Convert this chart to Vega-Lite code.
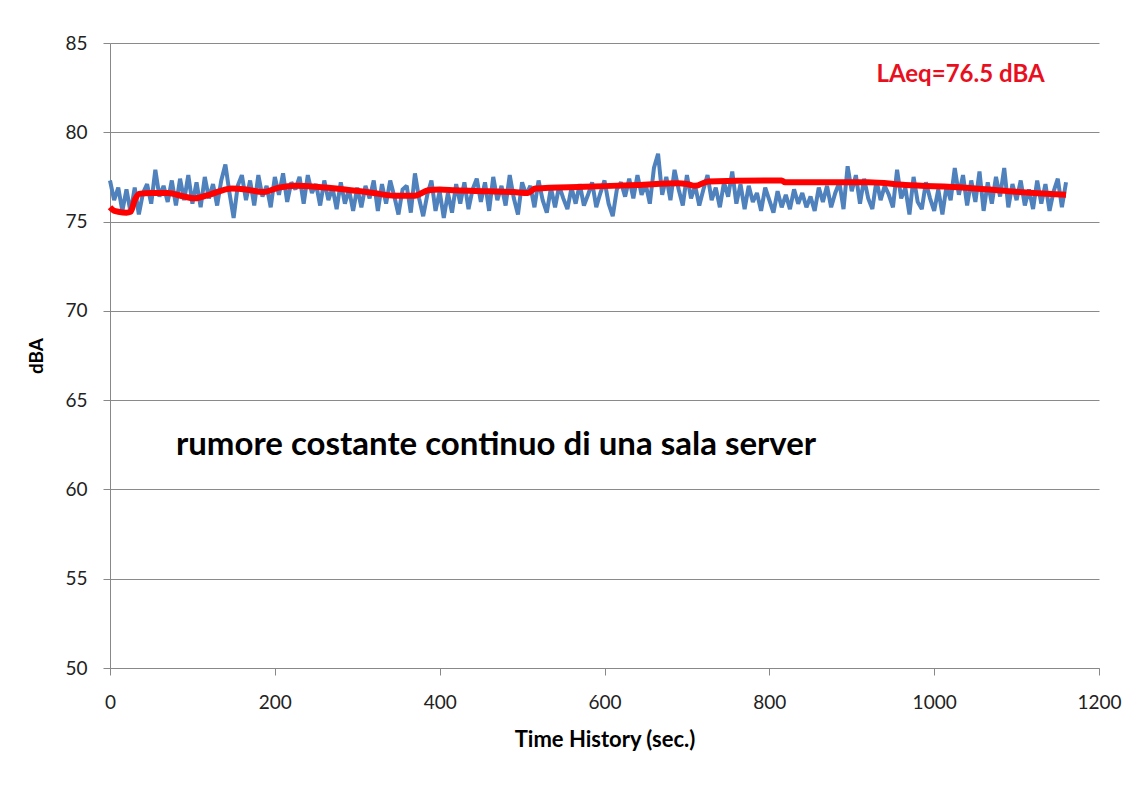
{
  "$schema": "https://vega.github.io/schema/vega-lite/v6.json",
  "width": 989,
  "height": 625,
  "autosize": "none",
  "padding": {"left": 110, "top": 43, "right": 40, "bottom": 117},
  "background": "white",
  "config": {
    "view": {"stroke": null},
    "font": "Lato",
    "axis": {"labelFont": "Lato", "titleFont": "Lato"}
  },
  "datasets": {
    "blue": [
      {"t":0,"v":77.3},{"t":5,"v":76.2},{"t":10,"v":76.9},{"t":15,"v":75.6},{"t":20,"v":76.8},{"t":25,"v":75.5},{"t":30,"v":76.9},{"t":35,"v":75.4},{"t":40,"v":76.6},{"t":45,"v":77.1},
      {"t":50,"v":76.0},{"t":55,"v":77.9},{"t":60,"v":76.4},{"t":65,"v":77.0},{"t":70,"v":76.1},{"t":75,"v":77.3},{"t":80,"v":75.9},{"t":85,"v":77.4},{"t":90,"v":76.2},{"t":95,"v":77.6},
      {"t":100,"v":76.0},{"t":105,"v":77.2},{"t":110,"v":75.8},{"t":115,"v":77.5},{"t":120,"v":76.3},{"t":125,"v":77.1},{"t":130,"v":75.9},{"t":135,"v":77.3},{"t":140,"v":78.2},{"t":145,"v":76.6},
      {"t":150,"v":75.2},{"t":155,"v":77.0},{"t":160,"v":77.6},{"t":165,"v":76.2},{"t":170,"v":77.3},{"t":175,"v":75.9},{"t":180,"v":77.6},{"t":185,"v":76.4},{"t":190,"v":77.0},{"t":195,"v":75.8},
      {"t":200,"v":77.5},{"t":205,"v":76.5},{"t":210,"v":77.7},{"t":215,"v":76.1},{"t":220,"v":77.2},{"t":225,"v":76.8},{"t":230,"v":77.5},{"t":235,"v":76.0},{"t":240,"v":77.6},{"t":245,"v":76.6},
      {"t":250,"v":77.1},{"t":255,"v":75.9},{"t":260,"v":77.3},{"t":265,"v":76.2},{"t":270,"v":76.9},{"t":275,"v":75.7},{"t":280,"v":77.2},{"t":285,"v":76.0},{"t":290,"v":76.8},{"t":295,"v":75.6},
      {"t":300,"v":76.9},{"t":305,"v":75.8},{"t":310,"v":77.0},{"t":315,"v":76.3},{"t":320,"v":77.3},{"t":325,"v":75.6},{"t":330,"v":77.1},{"t":335,"v":76.0},{"t":340,"v":77.3},{"t":345,"v":76.4},
      {"t":350,"v":75.4},{"t":355,"v":76.8},{"t":360,"v":77.0},{"t":365,"v":75.5},{"t":370,"v":77.7},{"t":375,"v":76.3},{"t":380,"v":75.3},{"t":385,"v":76.5},{"t":390,"v":77.3},{"t":395,"v":75.6},
      {"t":400,"v":76.7},{"t":405,"v":75.2},{"t":410,"v":76.6},{"t":415,"v":75.5},{"t":420,"v":77.1},{"t":425,"v":76.0},{"t":430,"v":77.2},{"t":435,"v":75.7},{"t":440,"v":76.8},{"t":445,"v":77.4},
      {"t":450,"v":76.1},{"t":455,"v":77.2},{"t":460,"v":75.6},{"t":465,"v":77.5},{"t":470,"v":76.2},{"t":475,"v":77.0},{"t":480,"v":75.9},{"t":485,"v":77.6},{"t":490,"v":76.3},{"t":495,"v":75.4},
      {"t":500,"v":77.2},{"t":505,"v":76.5},{"t":510,"v":77.0},{"t":515,"v":75.8},{"t":520,"v":77.3},{"t":525,"v":76.2},{"t":530,"v":75.5},{"t":535,"v":76.9},{"t":540,"v":75.8},{"t":545,"v":77.0},
      {"t":550,"v":76.3},{"t":555,"v":75.7},{"t":560,"v":76.9},{"t":565,"v":76.0},{"t":570,"v":77.1},{"t":575,"v":75.9},{"t":580,"v":76.5},{"t":585,"v":77.2},{"t":590,"v":75.8},{"t":595,"v":76.6},
      {"t":600,"v":77.3},{"t":605,"v":76.0},{"t":610,"v":75.3},{"t":615,"v":76.8},{"t":620,"v":77.2},{"t":625,"v":76.4},{"t":630,"v":77.4},{"t":635,"v":76.3},{"t":640,"v":77.6},{"t":645,"v":76.5},
      {"t":650,"v":77.1},{"t":655,"v":76.0},{"t":660,"v":78.0},{"t":665,"v":78.8},{"t":670,"v":76.5},{"t":675,"v":77.5},{"t":680,"v":76.2},{"t":685,"v":77.9},{"t":690,"v":76.8},{"t":695,"v":75.9},
      {"t":700,"v":77.6},{"t":705,"v":76.3},{"t":710,"v":77.0},{"t":715,"v":75.9},{"t":720,"v":76.8},{"t":725,"v":77.6},{"t":730,"v":76.2},{"t":735,"v":76.9},{"t":740,"v":75.8},{"t":745,"v":77.2},
      {"t":750,"v":76.4},{"t":755,"v":77.8},{"t":760,"v":76.0},{"t":765,"v":77.1},{"t":770,"v":75.7},{"t":775,"v":77.0},{"t":780,"v":76.1},{"t":785,"v":76.6},{"t":790,"v":75.6},{"t":795,"v":76.9},
      {"t":800,"v":76.2},{"t":805,"v":75.5},{"t":810,"v":76.7},{"t":815,"v":75.8},{"t":820,"v":76.5},{"t":825,"v":75.7},{"t":830,"v":76.8},{"t":835,"v":76.0},{"t":840,"v":76.6},{"t":845,"v":75.8},
      {"t":850,"v":76.4},{"t":855,"v":75.6},{"t":860,"v":76.9},{"t":865,"v":76.1},{"t":870,"v":77.0},{"t":875,"v":75.8},{"t":880,"v":76.6},{"t":885,"v":77.2},{"t":890,"v":75.7},{"t":895,"v":78.1},
      {"t":900,"v":76.7},{"t":905,"v":77.6},{"t":910,"v":76.0},{"t":915,"v":77.4},{"t":920,"v":76.3},{"t":925,"v":75.7},{"t":930,"v":77.3},{"t":935,"v":76.2},{"t":940,"v":77.0},{"t":945,"v":76.5},
      {"t":950,"v":75.8},{"t":955,"v":77.9},{"t":960,"v":76.3},{"t":965,"v":76.9},{"t":970,"v":75.4},{"t":975,"v":77.5},{"t":980,"v":76.1},{"t":985,"v":75.7},{"t":990,"v":77.2},{"t":995,"v":76.3},
      {"t":1000,"v":75.6},{"t":1005,"v":76.8},{"t":1010,"v":75.4},{"t":1015,"v":77.0},{"t":1020,"v":76.2},{"t":1025,"v":78.0},{"t":1030,"v":76.5},{"t":1035,"v":77.6},{"t":1040,"v":75.9},{"t":1045,"v":77.3},
      {"t":1050,"v":76.1},{"t":1055,"v":77.8},{"t":1060,"v":75.6},{"t":1065,"v":77.2},{"t":1070,"v":76.0},{"t":1075,"v":77.5},{"t":1080,"v":76.4},{"t":1085,"v":78.0},{"t":1090,"v":75.8},{"t":1095,"v":77.1},
      {"t":1100,"v":76.2},{"t":1105,"v":77.3},{"t":1110,"v":75.9},{"t":1115,"v":76.8},{"t":1120,"v":75.7},{"t":1125,"v":77.3},{"t":1130,"v":76.0},{"t":1135,"v":77.1},{"t":1140,"v":75.6},{"t":1145,"v":76.7},
      {"t":1150,"v":77.4},{"t":1155,"v":75.8},{"t":1160,"v":77.2}
    ],
    "red": [
      {"t":0,"v":75.8},{"t":5,"v":75.6},{"t":10,"v":75.55},{"t":20,"v":75.5},{"t":25,"v":75.55},{"t":30,"v":76.2},{"t":35,"v":76.55},{"t":50,"v":76.6},{"t":70,"v":76.6},{"t":90,"v":76.4},
      {"t":103,"v":76.3},{"t":120,"v":76.5},{"t":148,"v":76.85},{"t":165,"v":76.8},{"t":185,"v":76.65},{"t":205,"v":76.9},{"t":225,"v":77.0},{"t":250,"v":76.95},{"t":285,"v":76.8},{"t":320,"v":76.6},
      {"t":346,"v":76.45},{"t":370,"v":76.45},{"t":386,"v":76.75},{"t":400,"v":76.8},{"t":419,"v":76.75},{"t":459,"v":76.7},{"t":490,"v":76.65},{"t":507,"v":76.6},{"t":516,"v":76.85},{"t":576,"v":76.95},
      {"t":640,"v":77.05},{"t":689,"v":77.15},{"t":700,"v":77.1},{"t":710,"v":77.0},{"t":726,"v":77.25},{"t":815,"v":77.3},{"t":819,"v":77.2},{"t":920,"v":77.2},{"t":965,"v":77.05},{"t":1038,"v":76.9},
      {"t":1090,"v":76.7},{"t":1160,"v":76.5}
    ],
    "notes": [
      {"t":80,"v":62.5,"label":"rumore costante continuo di una sala server","kind":"main"},
      {"t":930,"v":83.2,"label":"LAeq=76.5 dBA","kind":"laeq"}
    ]
  },
  "encoding": {
    "x": {
      "field": "t", "type": "quantitative",
      "scale": {"domain": [0, 1200], "nice": false},
      "axis": {
        "values": [0, 200, 400, 600, 800, 1000, 1200],
        "format": "d",
        "labelFlush": false,
        "labelBound": false,
        "title": "Time History (sec.)",
        "titleFontSize": 22, "titleFontWeight": "bold", "titleColor": "#000000", "titlePadding": 17,
        "labelFontSize": 19, "labelColor": "#222222", "labelPadding": 18,
        "tickSize": 7, "tickColor": "#888888", "domainColor": "#888888",
        "grid": false
      }
    },
    "y": {
      "field": "v", "type": "quantitative",
      "scale": {"domain": [50, 85], "nice": false, "zero": false},
      "axis": {
        "values": [50, 55, 60, 65, 70, 75, 80, 85],
        "title": "dBA",
        "titleFontSize": 19, "titleFontWeight": "bold", "titleColor": "#000000", "titlePadding": 18,
        "labelFontSize": 19, "labelColor": "#222222", "labelPadding": 16,
        "labelFlush": false, "labelBound": false,
        "tickSize": 7, "tickColor": "#888888", "domainColor": "#888888",
        "grid": true, "gridColor": "#8a8a8a", "gridWidth": 1.2
      }
    }
  },
  "layer": [
    {
      "data": {"name": "blue"},
      "mark": {"type": "line", "color": "#4F81BD", "strokeWidth": 4, "strokeJoin": "miter", "strokeMiterLimit": 2}
    },
    {
      "data": {"name": "red"},
      "mark": {"type": "line", "color": "#FF0000", "strokeWidth": 6, "interpolate": "monotone"}
    },
    {
      "data": {"name": "notes"},
      "transform": [{"filter": "datum.kind === 'main'"}],
      "mark": {"type": "text", "align": "left", "baseline": "middle", "fontSize": 33, "fontWeight": "bold", "color": "#000000"},
      "encoding": {"text": {"field": "label"}}
    },
    {
      "data": {"name": "notes"},
      "transform": [{"filter": "datum.kind === 'laeq'"}],
      "mark": {"type": "text", "align": "left", "baseline": "middle", "fontSize": 24, "fontWeight": "bold", "color": "#E8101E"},
      "encoding": {"text": {"field": "label"}}
    }
  ]
}
